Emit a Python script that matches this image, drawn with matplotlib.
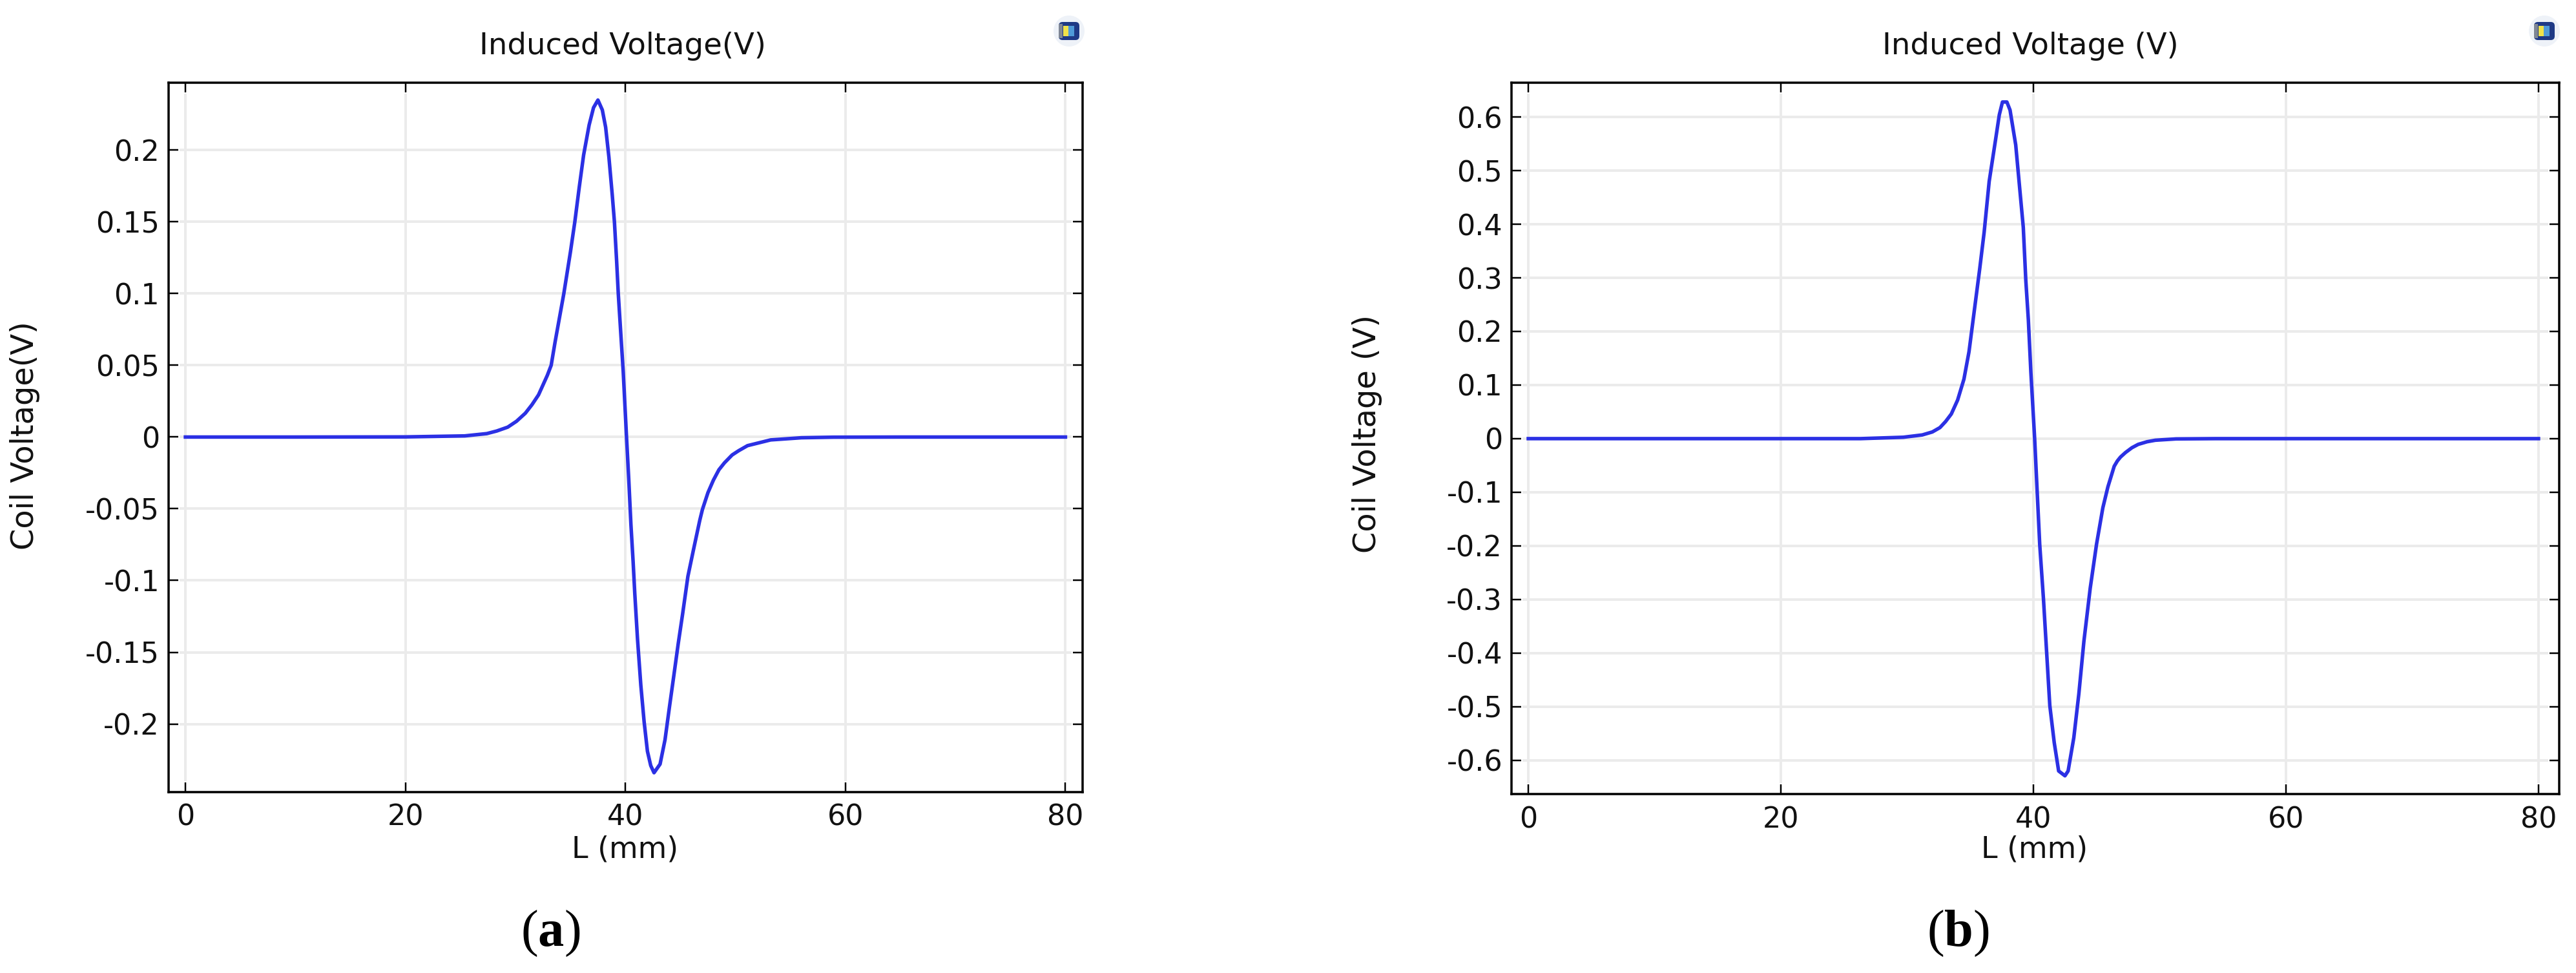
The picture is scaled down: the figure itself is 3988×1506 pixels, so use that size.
import matplotlib
matplotlib.use("Agg")
import matplotlib.pyplot as plt
from matplotlib.patches import Rectangle, Circle, FancyBboxPatch

plt.rcParams['font.family'] = ['DejaVu Sans']
plt.rcParams['axes.unicode_minus'] = False
plt.rcParams['mathtext.fontset'] = 'custom'
plt.rcParams['mathtext.bf'] = 'Liberation Serif:bold'
plt.rcParams['mathtext.rm'] = 'Liberation Serif'

W, H = 3988, 1506
DPI = 100

# ---- data ----
L_a = [0, 10, 20, 25.4, 27.4, 28.3, 29.3, 30.1, 30.9, 31.5, 32.1, 32.9, 33.25, 33.6, 34.4, 35.0, 35.4, 35.8, 36.2, 36.7,
       37.1, 37.5, 37.9, 38.2, 38.5, 38.8, 39.0, 39.2, 39.35, 39.6, 39.8, 40.1, 40.3, 40.5,
       40.7, 40.85, 41.1, 41.4, 41.7, 42.0, 42.3, 42.6, 43.15, 43.6, 44.0, 44.4, 44.8, 45.2,
       45.68, 46.18, 46.76, 47.0, 47.5, 48.0, 48.5, 49.0, 49.7, 50.3, 51.1, 53.2, 56, 58.9, 65, 80]
V_a = [0, 0, 0.0001, 0.0008, 0.0024, 0.0042, 0.0069, 0.0110, 0.0166, 0.0225, 0.0294, 0.0430, 0.050, 0.066, 0.100, 0.129, 0.150,
       0.174, 0.1966, 0.2175, 0.2296, 0.2349, 0.228, 0.216, 0.195, 0.169, 0.150, 0.1227, 0.100,
       0.0696, 0.0455, 0, -0.029, -0.061, -0.087, -0.109, -0.141, -0.173, -0.1985, -0.219,
       -0.229, -0.234, -0.228, -0.211, -0.1883, -0.1663, -0.144, -0.1233, -0.0971, -0.0788,
       -0.058, -0.0505, -0.0388, -0.030, -0.0228, -0.018, -0.0125, -0.0095, -0.006, -0.002, -0.0005, -0.0001, 0, 0]

L_b = [0, 15, 26.3, 29.7, 31.2, 32.0, 32.6, 33.05, 33.5, 34.0, 34.5, 34.9, 35.3, 35.75, 36.1, 36.5, 37.0, 37.3,
       37.55, 37.9, 38.15, 38.6, 38.9, 39.2, 39.4, 39.6, 39.8, 40.1, 40.3, 40.5, 40.8, 41.05,
       41.3, 41.65, 42.0, 42.5, 42.75, 43.2, 43.6, 44.0, 44.5, 45.0, 45.5, 45.9, 46.4, 46.65, 46.9, 47.3,
       47.8, 48.3, 49.0, 49.65, 51.3, 54.4, 80]
V_b = [0, 0, 0, 0.0026, 0.0069, 0.0125, 0.0206, 0.032, 0.046, 0.072, 0.111, 0.162, 0.235, 0.317, 0.385, 0.480,
       0.557, 0.604, 0.628, 0.628, 0.613, 0.548, 0.471, 0.394, 0.295, 0.222, 0.124, 0, -0.099,
       -0.197, -0.300, -0.399, -0.498, -0.567, -0.620, -0.629, -0.620, -0.558, -0.476, -0.378,
       -0.279, -0.197, -0.129, -0.090, -0.0515, -0.0416, -0.0343, -0.0258, -0.017, -0.0107, -0.0058, -0.003, -0.0005, 0, 0]

x_ticks = [0, 20, 40, 60, 80]
x_tick_labels = ['0', '20', '40', '60', '80']

y_ticks_a = [0.2, 0.15, 0.1, 0.05, 0, -0.05, -0.1, -0.15, -0.2]
y_tick_labels_a = ['0.2', '0.15', '0.1', '0.05', '0', '-0.05', '-0.1', '-0.15', '-0.2']

y_ticks_b = [0.6, 0.5, 0.4, 0.3, 0.2, 0.1, 0, -0.1, -0.2, -0.3, -0.4, -0.5, -0.6]
y_tick_labels_b = ['0.6', '0.5', '0.4', '0.3', '0.2', '0.1', '0', '-0.1', '-0.2', '-0.3', '-0.4', '-0.5', '-0.6']

LINE = '#2b30e4'
GRID = '#ebebeb'
LW = 72 / DPI  # 1 px in pt


def add_panel(fig, box, xlim, ylim, xs, ys, yt, ytl, title, ylabel, title_px, ylabel_px, xlabel_px):
    left, top, right, bottom = box
    ax = fig.add_axes([left / W, 1 - bottom / H, (right - left) / W, (bottom - top) / H])
    ax.plot(xs, ys, color=LINE, lw=5.5 * LW, solid_joinstyle='round', zorder=3)
    ax.set_xlim(*xlim)
    ax.set_ylim(*ylim)
    ax.set_xticks(x_ticks, x_tick_labels)
    ax.set_yticks(yt, ytl)
    ax.tick_params(axis='both', which='major', direction='in', top=True, right=True,
                   length=15 * LW, width=2.5 * LW, labelsize=32, color='black', labelcolor='#111111')
    ax.tick_params(axis='x', pad=18 * LW)
    ax.tick_params(axis='y', pad=14 * LW)
    ax.set_axisbelow(True)
    ax.grid(True, color=GRID, lw=4 * LW)
    for s in ax.spines.values():
        s.set_linewidth(3.5 * LW)
        s.set_color('black')
    # grid lines stop short of the inward ticks, as in the reference
    inset = Rectangle((left + 17, H - bottom + 17), right - left - 34, bottom - top - 34,
                      transform=None)
    for g in ax.get_xgridlines() + ax.get_ygridlines():
        g.set_clip_path(inset)

    w, h = right - left, bottom - top
    ax.set_title(title, fontsize=33.5, color='#111111', x=(title_px[0] - left) / w,
                 y=(bottom - title_px[1]) / h, pad=0, va='center')
    ax.set_xlabel('L (mm)', fontsize=33, color='#111111')
    ax.xaxis.set_label_coords((xlabel_px[0] - left) / w, (bottom - xlabel_px[1]) / h)
    ax.xaxis.label.set_va('center')
    ax.set_ylabel(ylabel, fontsize=34.5, color='#111111')
    ax.yaxis.set_label_coords((ylabel_px[0] - left) / w, (bottom - ylabel_px[1]) / h)
    ax.yaxis.label.set_va('center')
    return ax


def add_icon(fig, cx, cy):
    """Small application icon at the top-right corner of each plot."""
    fig.add_artist(Circle((cx, H - cy), 24, transform=None, fc='#eef2f8', ec='none'))
    fig.add_artist(FancyBboxPatch((cx - 16, H - cy - 14), 32, 28, boxstyle='round,pad=0,rounding_size=6',
                                  transform=None, fc='#1f3a86', ec='none'))
    fig.add_artist(Rectangle((cx - 16, H - cy - 11), 6, 22, transform=None, fc='#7f8795', ec='none'))
    fig.add_artist(Rectangle((cx - 9, H - cy - 8), 8, 16, transform=None, fc='#f0e24a', ec='none'))
    fig.add_artist(Rectangle((cx - 1, H - cy - 8), 9, 16, transform=None, fc='#4f9ad8', ec='none'))


fig = plt.figure(figsize=(W / DPI, H / DPI), dpi=DPI, facecolor='white')

add_panel(fig, (261, 128, 1676, 1226), (-1.53, 81.56), (-0.2475, 0.247), L_a, V_a,
          y_ticks_a, y_tick_labels_a, 'Induced Voltage(V)', 'Coil Voltage(V)',
          (964, 71), (38, 674), (968, 1315))
add_panel(fig, (2340, 128, 3962, 1229), (-1.33, 81.64), (-0.663, 0.664), L_b, V_b,
          y_ticks_b, y_tick_labels_b, 'Induced Voltage (V)', 'Coil Voltage (V)',
          (3143, 71), (2116, 672), (3150, 1315))

add_icon(fig, 1655, 48)
add_icon(fig, 3939, 48)

fig.text(852 / W, 1 - 1444 / H, r'$\mathrm{(}\mathbf{a}\mathrm{)}$', fontsize=58, ha='center', va='center', color='black')
fig.text(3031 / W, 1 - 1444 / H, r'$\mathrm{(}\mathbf{b}\mathrm{)}$', fontsize=58, ha='center', va='center', color='black')

fig.savefig('out.png', dpi=DPI, facecolor='white')
